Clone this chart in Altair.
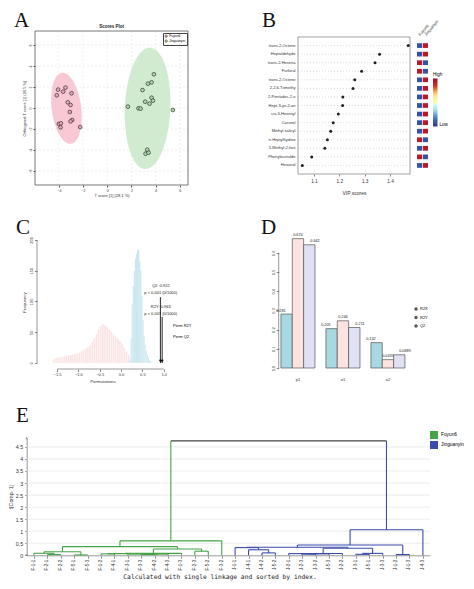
import json
import numpy as np
import pandas as pd
import altair as alt

FONT = "Liberation Sans"
SERIF = "Liberation Serif"
MONO = "DejaVu Sans Mono"
W, H = 458, 573

# ---------------- Panel A : OPLS-DA scores ----------------
A_groups = ["Fuyun6", "Jinguanyin"]
A_fu_x = [-4.06, -3.45, -3.64, -4.17, -2.95, -3.26, -3.03, -3.09, -2.90, -3.03, -4.00, -3.83, -3.86, -2.23]
A_fu_y = [1.75, 1.94, 1.56, 1.21, 1.40, 0.54, 0.29, -0.38, -1.14, -1.27, -1.52, -1.46, -1.84, -1.81]
A_ji_x = [3.86, 3.67, 3.37, 2.92, 3.67, 3.78, 3.14, 3.50, 1.71, 2.59, 2.76, 5.43, 3.31, 3.17, 3.42]
A_ji_y = [3.21, 2.44, 2.32, 1.71, 0.98, 0.70, 0.60, 0.41, 0.13, -0.03, -0.06, -0.19, -3.97, -4.35, -4.25]
A_ell_fu = [-3.37, -0.03, 3.4, 1.22, 96]     # centre x, centre y, semi-major, semi-minor, angle
A_ell_ji = [3.34, -0.03, 5.78, 1.88, 88]
A_xticks = [-4, -2, 0, 2, 4, 6]
A_yticks = [-6, -4, -2, 0, 2, 4, 6]

# ---------------- Panel B : VIP scores ----------------
B_names = ["trans-2-Octene", "Heptaldehyde", "trans-2-Hexena", "Furfural", "trans-2-Octene",
           "2,2,6-Trimethy", "2-Pentadec-2-e", "Hept-3-yn-2-on", "cis-3-Hexenyl", "Carveol",
           "Methyl salicyl", "n-Heptylhydrox", "5-Methyl-2-hex", "Phenylacetalde", "Hexanal"]
B_vip = [1.472, 1.359, 1.341, 1.288, 1.261, 1.254, 1.214, 1.213, 1.196, 1.176, 1.166, 1.153, 1.143, 1.091, 1.054]
B_cols = ["Fuyun6", "Jinguanyin"]
B_fuyun6 = [-0.85, -0.85, 0.85, 0.85, -0.85, -0.85, -0.85, -0.85, -0.85, -0.85, -0.85, 0.85, -0.85, 0.85, -0.85]
B_jinguanyin = [0.85, 0.85, -0.85, -0.85, 0.85, 0.85, 0.85, 0.85, 0.85, 0.85, 0.85, -0.85, 0.85, -0.85, 0.85]

# ---------------- Panel C : permutation test ----------------
C_q2_start, C_q2_width = -1.60, 0.05
C_q2_counts = [6, 8, 9, 9, 10, 11, 12, 12, 13, 14, 15, 16, 17, 19, 21, 23, 26, 29, 34, 40, 47,
               54, 60, 63, 61, 58, 55, 51, 47, 43, 39, 35, 31, 25, 19, 13, 8, 5, 3, 2, 1]
C_r2y_start, C_r2y_width = 0.20, 0.025
C_r2y_counts = [5, 40, 95, 125, 150, 170, 178, 184, 183, 165, 150, 110, 70, 45, 30, 20, 14, 9, 5, 3, 1]
C_arrow_x = [0.922, 0.963]
C_arrow_top = [107, 75]
C_notes = ["Q2: 0.922", "p < 0.001 (0/1000)", "R2Y: 0.963", "p < 0.001 (0/1000)"]
C_note_y = [125, 114, 91, 80]

# ---------------- Panel D : model summary ----------------
D_groups = ["p1", "o1", "o2"]
D_stats = ["R2X", "R2Y", "Q2"]
D_R2X = [0.281, 0.205, 0.132]
D_R2Y = [0.674, 0.246, 0.0435]
D_Q2 = [0.642, 0.211, 0.0689]

# ---------------- Panel E : dendrogram ----------------
E_leaves = ["F-1-1", "F-2-1", "F-2-2", "F-5-1", "F-5-3", "F-1-2", "F-4-1", "F-3-1", "F-3-3", "F-4-2",
            "F-4-3", "F-1-3", "F-2-3", "F-5-2", "F-3-2", "J-1-1", "J-4-1", "J-4-2", "J-5-2", "J-2-1",
            "J-2-3", "J-3-2", "J-5-3", "J-2-2", "J-3-1", "J-5-1", "J-3-3", "J-1-2", "J-1-3", "J-4-3"]
E_merges = [
    ("f1", "F-2-1", "F-2-2", 0.03, "Fuyun6"), ("f2", "F-1-1", "f1", 0.085, "Fuyun6"),
    ("f3", "F-5-1", "F-5-3", 0.015, "Fuyun6"), ("f4", "f2", "f3", 0.15, "Fuyun6"),
    ("f5", "F-1-2", "F-4-1", 0.06, "Fuyun6"), ("f6", "F-3-3", "F-4-2", 0.03, "Fuyun6"),
    ("f7", "f6", "F-4-3", 0.05, "Fuyun6"), ("f8", "F-3-1", "f7", 0.055, "Fuyun6"),
    ("f9", "f5", "f8", 0.07, "Fuyun6"), ("f10", "f9", "F-1-3", 0.08, "Fuyun6"),
    ("f11", "F-2-3", "F-5-2", 0.17, "Fuyun6"), ("f12", "f10", "f11", 0.26, "Fuyun6"),
    ("f13", "f4", "f12", 0.36, "Fuyun6"), ("f14", "f13", "F-3-2", 0.60, "Fuyun6"),
    ("j1", "J-4-2", "J-5-2", 0.10, "Jinguanyin"), ("j2", "J-4-1", "j1", 0.23, "Jinguanyin"),
    ("j3", "J-1-1", "j2", 0.32, "Jinguanyin"), ("j4", "J-2-3", "J-3-2", 0.05, "Jinguanyin"),
    ("j5", "j4", "J-5-3", 0.06, "Jinguanyin"), ("j6", "J-2-1", "j5", 0.07, "Jinguanyin"),
    ("j7", "j6", "J-2-2", 0.075, "Jinguanyin"), ("j8", "J-3-1", "J-5-1", 0.04, "Jinguanyin"),
    ("j9", "j8", "J-3-3", 0.08, "Jinguanyin"), ("j10", "j7", "j9", 0.29, "Jinguanyin"),
    ("j11", "j3", "j10", 0.335, "Jinguanyin"), ("j12", "J-1-2", "J-1-3", 0.03, "Jinguanyin"),
    ("j13", "j11", "j12", 0.43, "Jinguanyin"), ("j14", "j13", "J-4-3", 1.06, "Jinguanyin"),
    ("root", "f14", "j14", 4.75, "root"),
]
E_groups = ["Fuyun6", "Jinguanyin"]
E_yticks = [0, 0.5, 1, 1.5, 2, 2.5, 3, 3.5, 4, 4.5]
GREEN, BLUE = "#45a447", "#3a4bab"


# ---------------- helpers ----------------
def lin(dom, r0, r1):
    return alt.Scale(domain=dom, range=[r0, r1], nice=False, zero=False)


def txt(t, x, y, size, font=FONT, **kw):
    return alt.Chart(pd.DataFrame({"t": [t]})).mark_text(font=font, fontSize=size, **kw).encode(
        text="t:N", x=alt.value(x), y=alt.value(y))


def letter(t, x, y):
    return txt(t, x, y, 21, font=SERIF, align="left", baseline="alphabetic", color="#111")


def ellipse_band(cx, cy, a, b, ang, n=90):
    t = np.radians(ang)
    c, s = np.cos(t), np.sin(t)
    A11 = c * c / a ** 2 + s * s / b ** 2
    A22 = s * s / a ** 2 + c * c / b ** 2
    A12 = c * s * (1 / a ** 2 - 1 / b ** 2)
    xm = np.sqrt(A22 / (A11 * A22 - A12 ** 2))
    dx = -xm * np.cos(np.linspace(0, np.pi, n))
    disc = np.clip(A12 ** 2 * dx ** 2 - A22 * (A11 * dx ** 2 - 1), 0, None)
    return cx + dx, cy + (-A12 * dx - np.sqrt(disc)) / A22, cy + (-A12 * dx + np.sqrt(disc)) / A22


layers = []

# ================= Panel A =================
AX0, AX1, AY0, AY1 = 27, 180, 177, 23
xA = lin([-5.97, 6.68], AX0, AX1)
yA = lin([-7.33, 7.33], AY0, AY1)
gA1 = pd.DataFrame({"v": A_xticks, "lo": -7.33, "hi": 7.33})
gA2 = pd.DataFrame({"v": A_yticks, "lo": -5.97, "hi": 6.68})
layers.append(alt.Chart(gA1).mark_rule(color="#e2e2e2", strokeDash=[2, 2], strokeWidth=0.6).encode(
    x=alt.X("v:Q", scale=xA, axis=None), y=alt.Y("lo:Q", scale=yA, axis=None), y2="hi:Q"))
layers.append(alt.Chart(gA2).mark_rule(color="#e2e2e2", strokeDash=[2, 2], strokeWidth=0.6).encode(
    y=alt.Y("v:Q", scale=yA, axis=None), x=alt.X("lo:Q", scale=xA, axis=None), x2="hi:Q"))
for p, col in zip([A_ell_fu, A_ell_ji], ["#f8c9d5", "#d0ebd0"]):
    ex, lo, hi = ellipse_band(*p)
    layers.append(alt.Chart(pd.DataFrame({"x": ex, "lo": lo, "hi": hi})).mark_area(color=col, orient="vertical").encode(
        x=alt.X("x:Q", scale=xA, axis=None), y=alt.Y("lo:Q", scale=yA, axis=None), y2="hi:Q"))
layers.append(alt.Chart(pd.DataFrame({"x0": [-5.97], "x1": [6.68], "y0": [-7.33], "y1": [7.33]})).mark_rect(
    fill="transparent", stroke="#555", strokeWidth=0.8).encode(
    x=alt.X("x0:Q", scale=xA, axis=None), x2="x1:Q", y=alt.Y("y0:Q", scale=yA, axis=None), y2="y1:Q"))
ptsA = pd.DataFrame({"x": A_fu_x + A_ji_x, "y": A_fu_y + A_ji_y,
                     "g": [A_groups[0]] * len(A_fu_x) + [A_groups[1]] * len(A_ji_x)})
layers.append(alt.Chart(ptsA).mark_circle(size=14, stroke="#333", strokeWidth=0.7, opacity=1).encode(
    x=alt.X("x:Q", scale=xA, axis=alt.Axis(orient="bottom", offset=AY0 - H, values=A_xticks,
            title="T score [1] (28.1 %)", labelFontSize=3.6, titleFontSize=4, tickSize=2, labelPadding=1,
            titlePadding=2, domain=False, grid=False, tickColor="#555", labelOverlap=False)),
    y=alt.Y("y:Q", scale=yA, axis=alt.Axis(orient="left", offset=-AX0, values=A_yticks,
            title="Orthogonal T score [1] (20.5 %)", labelAngle=-90, labelFontSize=3.6, titleFontSize=4,
            tickSize=2, labelPadding=1, titlePadding=2, domain=False, grid=False, tickColor="#555",
            labelOverlap=False)),
    fill=alt.Fill("g:N", scale=alt.Scale(domain=A_groups, range=["#eba7b9", "#acd9ad"]),
                  legend=alt.Legend(title=None, orient="none", legendX=155, legendY=25, strokeColor="#444",
                                    padding=1.5, labelFontSize=3.3, symbolSize=6, rowPadding=0,
                                    labelOffset=1.5, symbolStrokeWidth=0.5))))
layers.append(txt("Scores Plot", 103.5, 18.5, 4.5, fontWeight="bold", color="#222"))
layers.append(letter("A", 6, 19))

# ================= Panel B =================
BX0, BX1, BY0, BY1 = 290, 402, 29, 166
xB = lin([1.037, 1.479], BX0, BX1)
yB = alt.Scale(type="band", domain=list(range(len(B_names))), range=[BY0, BY1], paddingInner=0.2, paddingOuter=0.6)
B_df = pd.DataFrame({"i": list(range(len(B_names))), "vip": B_vip, "lo": 1.037, "hi": 1.479})
layers.append(alt.Chart(B_df).mark_rule(color="#c4c4c4", strokeDash=[1, 2], strokeWidth=0.6).encode(
    y=alt.Y("i:O", scale=yB, axis=None), x=alt.X("lo:Q", scale=xB, axis=None), x2="hi:Q"))
layers.append(alt.Chart(pd.DataFrame({"a": [0]})).mark_rect(fill="transparent", stroke="#888", strokeWidth=0.8).encode(
    x=alt.value(BX0), x2=alt.value(BX1), y=alt.value(BY0), y2=alt.value(BY1)))
layers.append(alt.Chart(B_df).mark_circle(size=9, color="#222", opacity=1).encode(
    x=alt.X("vip:Q", scale=xB, axis=alt.Axis(orient="bottom", offset=BY1 - H, values=[1.1, 1.2, 1.3, 1.4],
            format=".1f", title="VIP scores", labelFontSize=4.7, titleFontSize=5, tickSize=2, titlePadding=8,
            domain=False, grid=False, labelOverlap=False)),
    y=alt.Y("i:O", scale=yB, axis=alt.Axis(orient="left", offset=-BX0,
            labelExpr="%s[datum.value]" % json.dumps(B_names), title=None, ticks=False, domain=False,
            labelFontSize=4, labelPadding=3, grid=False, labelOverlap=False))))
H_df = pd.DataFrame({"i": list(range(len(B_names))) * 2,
                     "col": [B_cols[0]] * len(B_names) + [B_cols[1]] * len(B_names),
                     "v": B_fuyun6 + B_jinguanyin})
layers.append(alt.Chart(H_df).mark_rect().encode(
    x=alt.X("col:N", scale=alt.Scale(domain=B_cols, range=[409, 420], paddingInner=0.12, paddingOuter=0),
            axis=alt.Axis(orient="top", offset=-BY0, title=None, ticks=False, domain=False, labelAngle=-50,
                          labelFontSize=4, labelPadding=2, labelAlign="left", labelBaseline="middle")),
    y=alt.Y("i:O", scale=alt.Scale(type="band", domain=list(range(len(B_names))), range=[BY0, BY1],
                                   paddingInner=0.45, paddingOuter=0.725), axis=None),
    color=alt.Color("v:Q",
                    scale=alt.Scale(domain=[-1, -0.667, -0.333, 0, 0.333, 0.667, 1],
                                    range=["#313695", "#4575b4", "#abd9e9", "#ffffff", "#fee090", "#d73027", "#a50026"]),
                    legend=alt.Legend(orient="none", legendX=425, legendY=64, title="High", titleFontSize=4.5,
                                      titleFontWeight="normal", gradientLength=48, gradientThickness=4.5,
                                      labelFontSize=4.5, values=[-1], labelExpr="'Low'", direction="vertical",
                                      titlePadding=2))))
layers.append(letter("B", 254, 19))

# ================= Panel C =================
CX0, CX1, CY0, CY1 = 29, 160, 361, 227
xC = lin([-1.97, 1.1], CX0, CX1)
yC = lin([-9.75, 208], CY0, CY1)
rowsC = []
for k, n in enumerate(C_q2_counts):
    b0 = C_q2_start + k * C_q2_width
    rowsC.append({"b0": b0, "b1": b0 + C_q2_width, "z": 0, "n": n, "s": "Perm Q2"})
for k, n in enumerate(C_r2y_counts):
    b0 = C_r2y_start + k * C_r2y_width
    rowsC.append({"b0": b0, "b1": b0 + C_r2y_width, "z": 0, "n": n, "s": "Perm R2Y"})
layers.append(alt.Chart(pd.DataFrame(rowsC)).mark_rect(stroke="white", strokeWidth=0.35).encode(
    x=alt.X("b0:Q", scale=xC, axis=alt.Axis(orient="bottom", offset=CY0 - H, values=[-1.5, -1, -0.5, 0, 0.5, 1],
            format=".1f", title="Permutations", labelFontSize=4, titleFontSize=4.3, tickSize=2.5, domain=False,
            labelPadding=1, titlePadding=3, grid=False, labelOverlap=False)),
    x2="b1:Q",
    y=alt.Y("z:Q", scale=yC, axis=alt.Axis(orient="left", offset=-CX0, values=[0, 50, 100, 150, 200],
            title="Frequency", labelAngle=-90, labelFontSize=4, titleFontSize=4.3, tickSize=2.5, domain=False,
            labelPadding=1, titlePadding=3, grid=False, labelOverlap=False)),
    y2="n:Q",
    color=alt.Color("s:N", scale=alt.Scale(domain=["Perm R2Y", "Perm Q2"], range=["#a9d9e6", "#fbe3e3"]),
                    legend=alt.Legend(title=None, orient="none", legendX=159, legendY=316, labelFontSize=4,
                                      symbolSize=5, symbolType="circle", rowPadding=0.5, labelOffset=2))))
arrC = pd.DataFrame({"x": C_arrow_x, "top": C_arrow_top, "z": [0, 0], "head": [3, 3]})
layers.append(alt.Chart(arrC).mark_rule(color="#111", strokeWidth=0.9).encode(
    x=alt.X("x:Q", scale=xC, axis=None), y=alt.Y("z:Q", scale=yC, axis=None), y2="top:Q"))
layers.append(alt.Chart(arrC).mark_point(shape="triangle-down", filled=True, size=10, color="#111", opacity=1).encode(
    x=alt.X("x:Q", scale=xC, axis=None), y=alt.Y("head:Q", scale=yC, axis=None)))
layers.append(alt.Chart(pd.DataFrame({"t": C_notes, "y": C_note_y, "x": 0.93})).mark_text(
    fontSize=4, font=FONT, color="#222").encode(
    x=alt.X("x:Q", scale=xC, axis=None), y=alt.Y("y:Q", scale=yC, axis=None), text="t:N"))
layers.append(alt.Chart(pd.DataFrame({"a": [-1.5], "b": [1.0], "y": [-9.75]})).mark_rule(color="#555", strokeWidth=0.6).encode(
    x=alt.X("a:Q", scale=xC, axis=None), x2="b:Q", y=alt.Y("y:Q", scale=yC, axis=None)))
layers.append(alt.Chart(pd.DataFrame({"x": [-1.97], "a": [0], "b": [200]})).mark_rule(color="#555", strokeWidth=0.6).encode(
    x=alt.X("x:Q", scale=xC, axis=None), y=alt.Y("a:Q", scale=yC, axis=None), y2="b:Q"))
layers.append(letter("C", 8, 226))

# ================= Panel D =================
DX0, DX1, DY0, DY1 = 270.7, 399.2, 360, 227
rowsD = []
for gi, g in enumerate(D_groups):
    for s, vals in zip(D_stats, [D_R2X, D_R2Y, D_Q2]):
        rowsD.append({"g": g, "s": s, "v": vals[gi], "lab": str(vals[gi])})
D_df = pd.DataFrame(rowsD)
yD = lin([0, 0.693], DY0, DY1)
xDs = alt.Scale(domain=D_groups, range=[DX0, DX1], paddingInner=0.244, paddingOuter=0.05)
xoD = alt.XOffset("s:N", scale=alt.Scale(domain=D_stats, paddingInner=0, paddingOuter=0))
layers.append(alt.Chart(D_df).mark_bar(stroke="#555", strokeWidth=0.7).encode(
    x=alt.X("g:N", scale=xDs, axis=alt.Axis(orient="bottom", offset=DY0 - H, title=None, ticks=False,
            domain=False, labelFontSize=4, labelPadding=9, labelAngle=0)),
    xOffset=xoD,
    y=alt.Y("v:Q", scale=yD, axis=alt.Axis(orient="left", offset=-DX0, values=[0, 0.1, 0.2, 0.3, 0.4, 0.5, 0.6],
            format=".1f", labelAngle=-90, labelFontSize=4, tickSize=2.5, domain=False, title=None,
            labelPadding=1, grid=False, labelOverlap=False)),
    fill=alt.Fill("s:N", scale=alt.Scale(domain=D_stats, range=["#a8d8e2", "#fde3e0", "#e1e1f6"]),
                  legend=alt.Legend(title=None, orient="none", legendX=406, legendY=299, labelFontSize=4,
                                    symbolSize=4, symbolType="circle", rowPadding=0.5, labelOffset=2))))
layers.append(alt.Chart(D_df).mark_text(dy=-1.5, fontSize=3.8, baseline="bottom", color="#222").encode(
    x=alt.X("g:N", scale=xDs, axis=None), xOffset=xoD, y=alt.Y("v:Q", scale=yD, axis=None), text="lab:N"))
layers.append(alt.Chart(pd.DataFrame({"a": [0], "b": [0.6]})).mark_rule(color="#555", strokeWidth=0.6).encode(
    x=alt.value(DX0), y=alt.Y("a:Q", scale=yD, axis=None), y2="b:Q"))
layers.append(letter("D", 253, 226))

# ================= Panel E =================
EX0, EX1, EY0, EY1 = 18.7, 422, 547.3, 430
xE = lin([-0.54, 29.53], EX0, EX1)
yE = lin([0, 4.87], EY0, EY1)
pos = {name: float(i) for i, name in enumerate(E_leaves)}
hgt = {name: 0.0 for name in E_leaves}
grp = {name: (E_groups[0] if name.startswith("F") else E_groups[1]) for name in E_leaves}
segs = []
for name, a, b, h, g in E_merges:
    xa, xb = pos[a], pos[b]
    segs.append({"x": xa, "x2": xb, "y": h, "y2": h, "g": g})
    segs.append({"x": xa, "x2": xa, "y": hgt[a], "y2": h, "g": grp[a]})
    segs.append({"x": xb, "x2": xb, "y": hgt[b], "y2": h, "g": grp[b]})
    pos[name], hgt[name], grp[name] = (xa + xb) / 2, h, g
E_df = pd.DataFrame(segs)
layers.append(alt.Chart(pd.DataFrame({"v": E_yticks[1:], "lo": -0.54, "hi": 29.53})).mark_rule(
    color="#e3e3e3", strokeWidth=0.7).encode(
    y=alt.Y("v:Q", scale=yE, axis=None), x=alt.X("lo:Q", scale=xE, axis=None), x2="hi:Q"))
layers.append(alt.Chart(E_df[E_df.g != "root"]).mark_rule(strokeWidth=1.1).encode(
    x=alt.X("x:Q", scale=xE, axis=alt.Axis(orient="bottom", offset=EY0 - H, values=list(range(len(E_leaves))),
            labels=False, tickSize=3, title=None, domainColor="#999", tickColor="#999", grid=False)),
    x2="x2:Q",
    y=alt.Y("y:Q", scale=yE, axis=alt.Axis(orient="left", offset=-EX0, values=E_yticks, format="~g",
            labelFontSize=5.3, title="t[Comp. 1]", titleFontSize=5.3, grid=False, tickSize=2,
            domainColor="#999", tickColor="#999", labelColor="#333", titlePadding=2, labelOverlap=False)),
    y2="y2:Q",
    color=alt.Color("g:N", scale=alt.Scale(domain=E_groups, range=[GREEN, BLUE]), legend=None)))
layers.append(alt.Chart(E_df[E_df.g == "root"]).mark_rule(strokeWidth=1.1, color="#444").encode(
    x=alt.X("x:Q", scale=xE, axis=None), x2="x2:Q", y=alt.Y("y:Q", scale=yE, axis=None), y2="y2:Q"))
# legend carrier: filled squares keyed to the two cultivars (drawn at the axis corner, 1px)
layers.append(alt.Chart(pd.DataFrame({"g": E_groups, "x": [-0.54, -0.54], "y": [0, 0]})).mark_square(
    size=1, opacity=1).encode(
    x=alt.X("x:Q", scale=xE, axis=None), y=alt.Y("y:Q", scale=yE, axis=None),
    fill=alt.Fill("g:N", scale=alt.Scale(domain=E_groups, range=[GREEN, BLUE]),
                  legend=alt.Legend(title=None, orient="none", legendX=422, legendY=423, symbolType="square",
                                    symbolSize=64, symbolStrokeWidth=0, labelFontSize=4.8, labelOffset=3,
                                    rowPadding=2))))
layers.append(alt.Chart(pd.DataFrame({"i": list(range(len(E_leaves))), "t": E_leaves})).mark_text(
    angle=270, align="right", baseline="middle", fontSize=4.5, font=FONT, color="#333").encode(
    x=alt.X("i:Q", scale=xE, axis=None), y=alt.value(EY0 + 4.5), text="t:N"))
layers.append(alt.Chart(pd.DataFrame({"x": [-0.54], "y": [4.87]})).mark_point(
    shape="triangle-up", filled=True, size=8, color="#999", opacity=1).encode(
    x=alt.X("x:Q", scale=xE, axis=None), y=alt.Y("y:Q", scale=yE, axis=None)))
layers.append(txt("Calculated with single linkage and sorted by index.", 212, 570.5, 6.3, font=MONO,
                  baseline="alphabetic", color="#222"))
layers.append(letter("E", 8, 414))

chart = alt.layer(*layers).resolve_scale(
    x="independent", y="independent", color="independent", fill="independent", xOffset="independent"
).properties(width=W, height=H, padding=0, background="white").configure_view(stroke="transparent").configure_axis(
    labelFont=FONT, titleFont=FONT, titleFontWeight="normal", labelColor="#333", titleColor="#333"
).configure_legend(labelFont=FONT, titleFont=FONT)

chart.save("out.html", embed_options={"renderer": "svg", "actions": False})
